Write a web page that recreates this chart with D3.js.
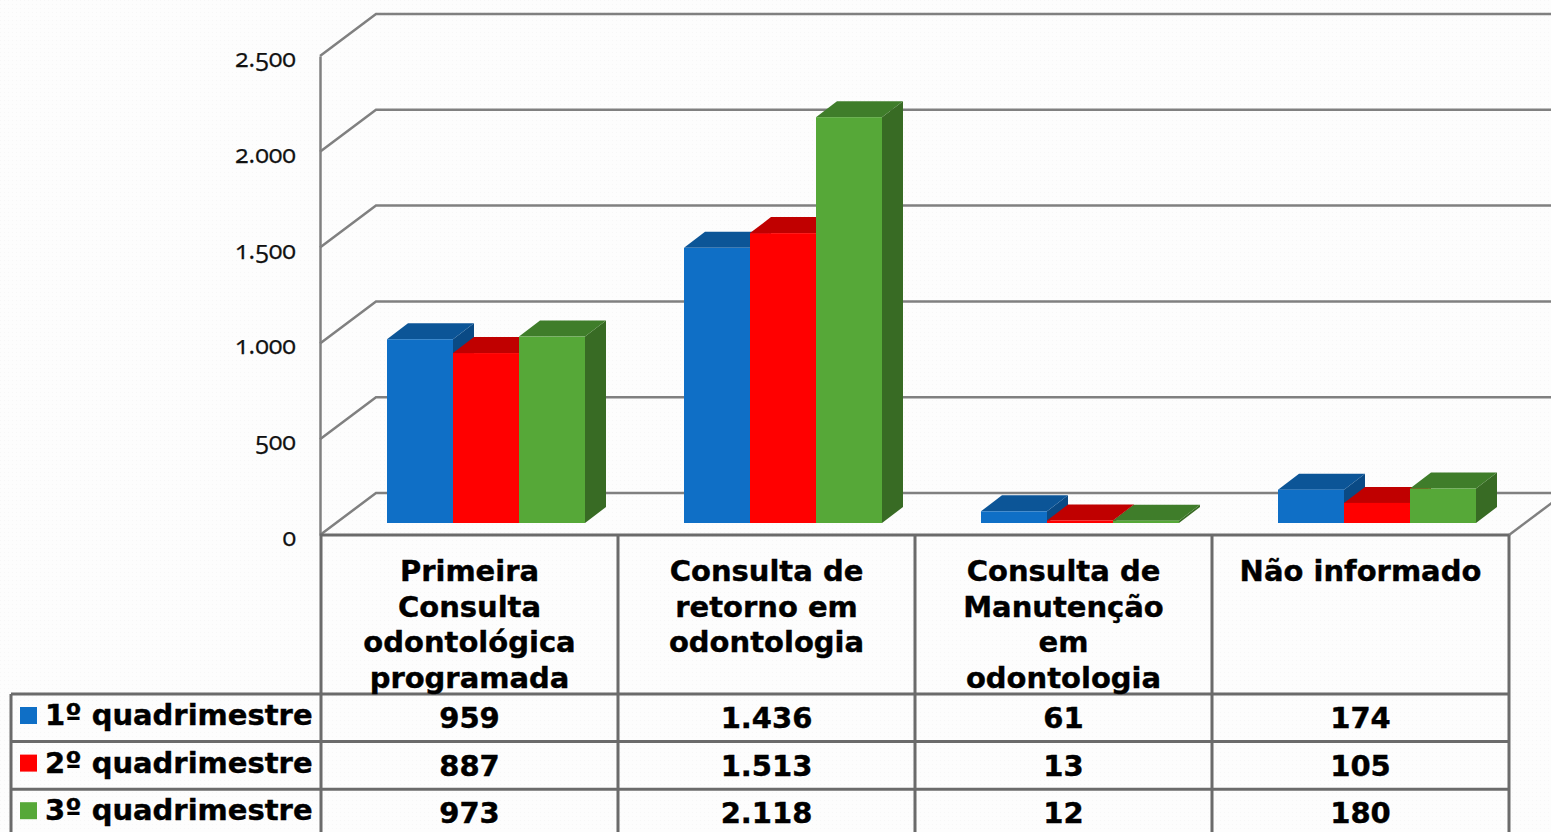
<!DOCTYPE html>
<html>
<head>
<meta charset="utf-8">
<script src="https://cdn.jsdelivr.net/npm/d3@7"></script>
<style>
  html, body { margin: 0; padding: 0; background: #fdfdfd; overflow: hidden; }
  .tick text { font-family: "Open Sans", serif; font-feature-settings: "onum" 1; }
</style>
</head>
<body>
<div id="chart"></div>
<script>
const categories = ['Primeira Consulta odontológica programada', 'Consulta de retorno em odontologia', 'Consulta de Manutenção em odontologia', 'Não informado'];
const categoryLines = [
  ['Primeira', 'Consulta', 'odontológica', 'programada'],
  ['Consulta de', 'retorno em', 'odontologia'],
  ['Consulta de', 'Manutenção', 'em', 'odontologia'],
  ['Não informado']
];
const seriesNames = ['1º quadrimestre', '2º quadrimestre', '3º quadrimestre'];
const q1 = [959, 1436, 61, 174];
const q2 = [887, 1513, 13, 105];
const q3 = [973, 2118, 12, 180];
const tickValues = [0, 500, 1000, 1500, 2000, 2500];
const allSeries = [q1, q2, q3];
const frontColors = ['#0f6fc6', '#ff0000', '#56a838'];
const topColors = ['#0c5597', '#c00000', '#3f7d2a'];
const sideColors = ['#0a4a85', '#a00000', '#386b24'];

const width = 1551, height = 832;
const svg = d3.select('#chart').append('svg')
  .attr('width', width)
  .attr('height', height)
  .style('display', 'block');

// 背景の細かい模様
const pat = svg.append('defs').append('pattern')
  .attr('id', 'bg').attr('width', 4).attr('height', 4)
  .attr('patternUnits', 'userSpaceOnUse');
pat.append('rect').attr('width', 4).attr('height', 4).attr('fill', '#fdfdfd');
pat.append('rect').attr('width', 1).attr('height', 1).attr('fill', '#f7f7f7');
svg.append('rect').attr('width', width).attr('height', height).attr('fill', 'url(#bg)');

const lineColor = '#6b6b6b';
const gridColor = '#808080';
const x = d3.scaleBand().domain(categories).range([321, 1509]);
const y = d3.scaleLinear().domain([0, 2500]).range([535, 56]);
const seriesX = d3.scaleBand().domain(d3.range(3)).range([66, 264]);
// 奥行き
const wallDx = 56, wallDy = -42;
const barDx = 21, barDy = -16, barBase = -12;

const fmt = d3.formatLocale({decimal: ',', thousands: '.', grouping: [3], currency: ['R$', '']}).format(',d');

// 壁のグリッド-------------------------------------------------------------
const grid = svg.append('g').attr('fill', 'none').attr('stroke', gridColor).attr('stroke-width', 2.5);
tickValues.forEach(t => {
  grid.append('path')
    .attr('d', d3.line()([[x.range()[0] - 1, y(t)], [x.range()[0] - 1 + wallDx, y(t) + wallDy], [width + 10, y(t) + wallDy]]));
});
grid.append('path')
  .attr('d', d3.line()([[x.range()[1], y(0)], [x.range()[1] + wallDx, y(0) + wallDy]]));

// 軸-----------------------------------------------------------------------
const axis = svg.append('g')
  .attr('transform', 'translate(320,0)')
  .call(d3.axisLeft(y).tickValues(tickValues).tickFormat(fmt).tickSize(0).tickPadding(24));
axis.select('.domain').attr('stroke', gridColor).attr('stroke-width', 2.5);
axis.selectAll('text')
  .attr('font-size', 25)
  .attr('fill', '#111')
  .attr('stroke', '#111')
  .attr('stroke-width', 0.25)
  .attr('dy', '0.42em');

// 棒-----------------------------------------------------------------------
allSeries.forEach((values, s) => {
  const g = svg.append('g').attr('class', 'series');
  values.forEach((v, i) => {
    const x0 = x(categories[i]) + seriesX(s);
    const x1 = x0 + seriesX.bandwidth();
    const yTop = y(v) + barBase;
    const yBot = y(0) + barBase;
    g.append('polygon')
      .attr('fill', sideColors[s])
      .attr('points', [[x1, yTop], [x1 + barDx, yTop + barDy], [x1 + barDx, yBot + barDy], [x1, yBot]].join(' '));
    g.append('polygon')
      .attr('fill', topColors[s])
      .attr('points', [[x0, yTop], [x0 + barDx, yTop + barDy], [x1 + barDx, yTop + barDy], [x1, yTop]].join(' '));
    g.append('rect')
      .attr('x', x0)
      .attr('y', yTop)
      .attr('width', seriesX.bandwidth())
      .attr('height', yBot - yTop)
      .attr('fill', frontColors[s]);
  });
});

// データテーブル-----------------------------------------------------------
const tableTop = 535, headerBottom = 694, rowH = 47.6, legendLeft = 11;
const rowY = d3.scaleBand().domain(seriesNames).range([headerBottom, headerBottom + rowH * 3]);
const table = svg.append('g').attr('stroke', lineColor).attr('stroke-width', 3).attr('fill', 'none');
table.append('line').attr('x1', 320).attr('x2', 1509).attr('y1', tableTop).attr('y2', tableTop);
categories.forEach(c => {
  table.append('line').attr('x1', x(c)).attr('x2', x(c)).attr('y1', tableTop).attr('y2', height);
});
table.append('line').attr('x1', 1509).attr('x2', 1509).attr('y1', tableTop).attr('y2', height);
table.append('line').attr('x1', legendLeft).attr('x2', legendLeft).attr('y1', headerBottom).attr('y2', height);
seriesNames.forEach(n => {
  table.append('line').attr('x1', legendLeft).attr('x2', 1509).attr('y1', rowY(n)).attr('y2', rowY(n));
});

const textG = svg.append('g')
  .attr('font-family', '"DejaVu Sans", Verdana, sans-serif')
  .attr('font-weight', 'bold')
  .attr('font-size', 29)
  .attr('fill', '#000')
  .attr('stroke', '#000')
  .attr('stroke-width', 0.4);

categoryLines.forEach((lines, i) => {
  lines.forEach((t, j) => {
    textG.append('text')
      .attr('x', x(categories[i]) + x.bandwidth() / 2)
      .attr('y', 581 + j * 35.6)
      .attr('text-anchor', 'middle')
      .text(t);
  });
});

seriesNames.forEach((n, s) => {
  svg.append('rect')
    .attr('x', 20)
    .attr('y', rowY(n) + 13)
    .attr('width', 17)
    .attr('height', 17)
    .attr('fill', frontColors[s]);
  textG.append('text')
    .attr('x', 45)
    .attr('y', rowY(n) + 31)
    .text(n);
  allSeries[s].forEach((v, i) => {
    textG.append('text')
      .attr('x', x(categories[i]) + x.bandwidth() / 2)
      .attr('y', rowY(n) + 34)
      .attr('text-anchor', 'middle')
      .text(fmt(v));
  });
});
</script>
</body>
</html>
